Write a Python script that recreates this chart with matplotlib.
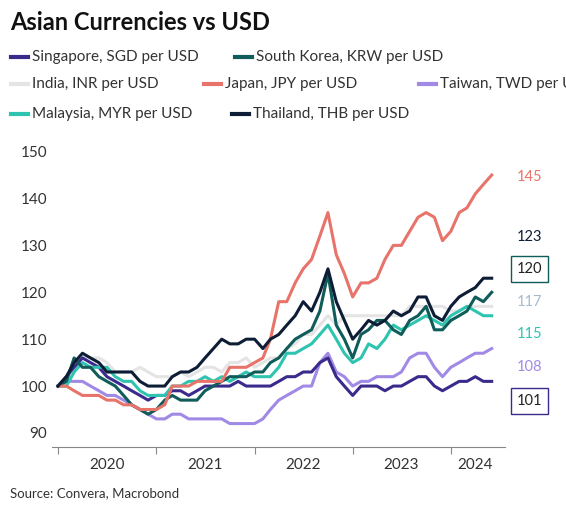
import matplotlib.pyplot as plt
import matplotlib.dates as mdates
import numpy as np
import pandas as pd

plt.rcParams['font.family'] = ['Lato', 'DejaVu Sans']

dates = pd.date_range("2020-01-01", periods=54, freq="MS")

japan = [100, 100, 99, 98, 98, 98, 97, 97, 96, 96, 95, 95,
         95, 96, 100, 100, 100, 101, 101, 101, 101, 104, 104, 104,
         105, 106, 110, 118, 118, 122, 125, 127, 132, 137, 128, 124,
         119, 122, 122, 123, 127, 130, 130, 133, 136, 137, 136, 131,
         133, 137, 138, 141, 143, 145]
korea = [100, 101, 106, 104, 104, 102, 101, 100, 98, 96, 95, 94,
         95, 97, 98, 97, 97, 97, 99, 100, 101, 102, 102, 102,
         103, 103, 105, 106, 108, 110, 111, 112, 116, 124, 113, 110,
         106, 111, 112, 114, 114, 112, 111, 114, 115, 117, 112, 112,
         114, 115, 116, 119, 118, 120]
singapore = [100, 102, 104, 106, 105, 104, 102, 101, 100, 99, 98, 97,
             98, 98, 99, 99, 98, 99, 100, 100, 100, 100, 101, 100,
             100, 100, 100, 101, 102, 102, 103, 103, 105, 106, 102, 100,
             98, 100, 100, 100, 99, 100, 100, 101, 102, 102, 100, 99,
             100, 101, 101, 102, 101, 101]
india = [100, 100, 103, 106, 106, 106, 105, 103, 103, 103, 104, 103,
         102, 102, 102, 103, 102, 103, 104, 104, 103, 105, 105, 106,
         104, 105, 106, 106, 108, 109, 111, 111, 113, 115, 113, 115,
         115, 115, 115, 115, 115, 115, 115, 117, 117, 117, 117, 117,
         116, 116, 117, 117, 117, 117]
taiwan = [100, 101, 101, 101, 100, 99, 98, 98, 97, 96, 95, 94,
          93, 93, 94, 94, 93, 93, 93, 93, 93, 92, 92, 92,
          92, 93, 95, 97, 98, 99, 100, 100, 105, 107, 103, 102,
          100, 101, 101, 102, 102, 102, 103, 106, 107, 107, 104, 102,
          104, 105, 106, 107, 107, 108]
malaysia = [100, 100, 103, 105, 104, 104, 104, 102, 101, 101, 99, 98,
            98, 98, 100, 100, 101, 101, 102, 101, 102, 101, 102, 103,
            102, 102, 102, 104, 107, 107, 108, 109, 111, 113, 110, 107,
            105, 106, 109, 108, 110, 113, 112, 113, 114, 115, 114, 113,
            115, 116, 117, 116, 115, 115]
thailand = [100, 102, 105, 107, 106, 105, 103, 103, 103, 103, 101, 100,
            100, 100, 102, 103, 103, 104, 106, 108, 110, 109, 109, 110,
            110, 108, 110, 111, 113, 115, 118, 116, 120, 125, 118, 114,
            110, 112, 114, 113, 114, 116, 115, 116, 119, 119, 115, 114,
            117, 119, 120, 121, 123, 123]

names = ["Singapore, SGD per USD", "South Korea, KRW per USD", "India, INR per USD",
         "Japan, JPY per USD", "Taiwan, TWD per USD", "Malaysia, MYR per USD",
         "Thailand, THB per USD"]
series = [singapore, korea, india, japan, taiwan, malaysia, thailand]
colors = ["#3b2a8c", "#0f5c5a", "#e4e4e4", "#e8736a", "#a08ae6", "#2ec4b0", "#0e1d36"]
draw_order = [2, 4, 0, 5, 1, 3, 6]
year_labels = ["2020", "2021", "2022", "2023", "2024"]

fig = plt.figure(figsize=(5.66, 5.21), dpi=100)
ax = fig.add_axes([0.092, 0.142, 0.80, 0.585])

for i in draw_order:
    ax.plot(dates, series[i], color=colors[i], linewidth=2.2)

ax.set_ylim(87, 152)
ax.set_xlim(pd.Timestamp("2019-12-10"), pd.Timestamp("2024-07-20"))
ax.set_yticks([90, 100, 110, 120, 130, 140, 150])
ax.tick_params(axis='y', length=0, labelsize=11, colors='#333333')
ax.xaxis.set_major_locator(mdates.YearLocator())
ax.xaxis.set_major_formatter(plt.NullFormatter())
label_pos = [pd.Timestamp(f"{y}-07-01") for y in year_labels[:-1]] + [pd.Timestamp("2024-04-01")]
ax.set_xticks(label_pos, minor=True)
ax.set_xticklabels(year_labels, minor=True)
ax.tick_params(axis='x', which='major', length=5, color='#888888')
ax.tick_params(axis='x', which='minor', length=0, labelsize=11, colors='#333333', pad=8)
for s in ['top', 'right', 'left']:
    ax.spines[s].set_visible(False)
ax.spines['bottom'].set_color('#888888')

# end labels, spread out so they don't collide
end_x = pd.Timestamp("2024-10-20")
plain = [(3, 144.5, "#e8736a"), (6, 131.7, "#0e1d36"), (2, 117.9, "#a9b9cc"),
         (5, 111, "#2ec4b0"), (4, 104, "#a08ae6")]
for i, yv, col in plain:
    ax.text(end_x, yv, str(series[i][-1]), color=col, fontsize=10.5,
            ha='center', va='center', clip_on=False)
for i, yv in [(1, 124.9), (0, 96.8)]:
    ax.text(end_x, yv, str(series[i][-1]), color='#222222', fontsize=10.5, ha='center',
            va='center', clip_on=False,
            bbox=dict(boxstyle='square,pad=0.4', fc='white', ec=colors[i], lw=1))

fig.text(0.018, 0.957, "Asian Currencies vs USD", fontsize=17, fontweight='bold',
         color='#111111', va='center')

rows = [[0, 1], [2, 3, 4], [5, 6]]
row_x = [[0.02, 0.415], [0.02, 0.36, 0.74], [0.02, 0.41]]
row_y = [0.89, 0.839, 0.781]
for r, idxs in enumerate(rows):
    for j, i in enumerate(idxs):
        x0 = row_x[r][j]
        fig.add_artist(plt.Line2D([x0, x0 + 0.03], [row_y[r]] * 2, color=colors[i],
                                  lw=3, transform=fig.transFigure))
        fig.text(x0 + 0.037, row_y[r], names[i], fontsize=11, color='#333333', va='center')

fig.text(0.018, 0.045, "Source: Convera, Macrobond", fontsize=9.5, color='#333333')

plt.savefig("out.png", dpi=100)
